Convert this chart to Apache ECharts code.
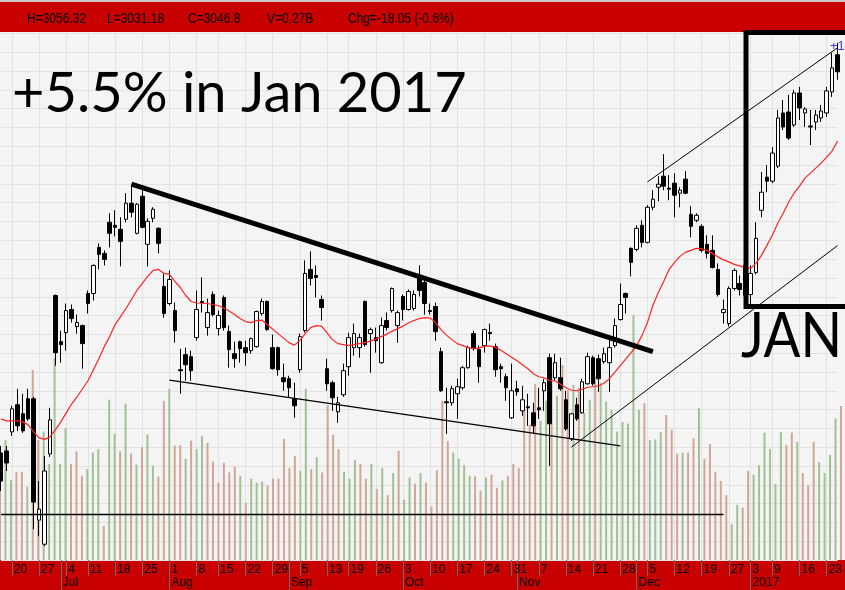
<!DOCTYPE html>
<html><head><meta charset="utf-8">
<script src="https://cdn.jsdelivr.net/npm/echarts@6/dist/echarts.min.js"></script>
<style>html,body{margin:0;padding:0;background:#f4f4f4}#c{width:845px;height:590px}</style>
</head><body><div id="c"></div>
<script>
const dates = ['2016-06-16','2016-06-17','2016-06-20','2016-06-21','2016-06-22','2016-06-23','2016-06-24','2016-06-27','2016-06-28','2016-06-29','2016-06-30',
'2016-07-01','2016-07-04','2016-07-05','2016-07-07','2016-07-08','2016-07-11','2016-07-12','2016-07-13','2016-07-14','2016-07-15','2016-07-18','2016-07-19','2016-07-20','2016-07-21','2016-07-22','2016-07-25','2016-07-26','2016-07-27','2016-07-28','2016-07-29',
'2016-08-01','2016-08-02','2016-08-03','2016-08-04','2016-08-05','2016-08-08','2016-08-10','2016-08-11','2016-08-12','2016-08-15','2016-08-16','2016-08-17','2016-08-18','2016-08-19','2016-08-22','2016-08-23','2016-08-24','2016-08-25','2016-08-26','2016-08-29','2016-08-30','2016-08-31',
'2016-09-01','2016-09-02','2016-09-05','2016-09-06','2016-09-07','2016-09-08','2016-09-09','2016-09-13','2016-09-14','2016-09-15','2016-09-16','2016-09-19','2016-09-20','2016-09-21','2016-09-22','2016-09-23','2016-09-26','2016-09-27','2016-09-28','2016-09-29','2016-09-30',
'2016-10-03','2016-10-04','2016-10-05','2016-10-06','2016-10-07','2016-10-10','2016-10-11','2016-10-12','2016-10-13','2016-10-14','2016-10-17','2016-10-18','2016-10-19','2016-10-20','2016-10-21','2016-10-24','2016-10-25','2016-10-26','2016-10-27','2016-10-28','2016-10-31',
'2016-11-01','2016-11-02','2016-11-03','2016-11-04','2016-11-07','2016-11-08','2016-11-09','2016-11-10','2016-11-11','2016-11-14','2016-11-15','2016-11-16','2016-11-17','2016-11-18','2016-11-21','2016-11-22','2016-11-23','2016-11-24','2016-11-25','2016-11-28','2016-11-29','2016-11-30',
'2016-12-01','2016-12-02','2016-12-05','2016-12-06','2016-12-07','2016-12-08','2016-12-09','2016-12-12','2016-12-13','2016-12-14','2016-12-15','2016-12-16','2016-12-19','2016-12-20','2016-12-21','2016-12-22','2016-12-23','2016-12-27','2016-12-28','2016-12-29','2016-12-30',
'2017-01-03','2017-01-04','2017-01-05','2017-01-06','2017-01-09','2017-01-10','2017-01-11','2017-01-12','2017-01-13','2017-01-16','2017-01-17','2017-01-18','2017-01-19','2017-01-20','2017-01-23','2017-01-24','2017-01-25'];

const open = [2740.4,2742,2757.2,2778.8,2771.6,2783.6,2783.6,2686.8,2667.6,2739.6,
2866,2829.2,2836.4,2854.8,2841.2,2842,2867.6,2867.6,2904.4,2899.6,
2924.4,2922,2918.8,2926.8,2939.6,2915.6,2945.2,2906.8,2927.6,2919.6,
2873.2,2859.6,2854,2806.8,2818.8,2817.2,2832.4,2861.2,2840.4,2866.8,
2839.6,2864.4,2837.2,2819.6,2829.2,2824.4,2822,2825.2,2851.6,2861.2,
2824.4,2824.4,2800.4,2799.6,2783.6,2806.8,2838,2886.8,2882,2862.8,
2807.6,2796.4,2773.2,2786.8,2809.2,2824.4,2824.4,2861.2,2835.6,2832.4,
2812.4,2846,2854,2842,2865.2,2854.8,2855.6,2880.4,2876.4,2854,
2857.2,2821.2,2781.2,2780.4,2787.6,2792.4,2808.4,2835.6,2822.8,2826,
2836.4,2825.2,2809.2,2801.2,2768.4,2791.6,2774,2777.2,2772.4,2776.4,
2790,2816.4,2800.4,2800.4,2782.8,2751.6,2778.8,2772.4,2795.6,2816.4,
2815.6,2813.2,2812.4,2826,2846.8,2867.6,2903.6,2902.8,2922,2908.4,
2936.4,2952.4,2961.2,2951.6,2955.6,2947.6,2958.8,2930.8,2926,2921.2,
2906.8,2902,2886.8,2852.4,2843.6,2871.6,2875.6,2890,2866.8,2884.4,
2934,2960.4,2957.2,2969.2,3011.6,3012.4,3002,3027.6,3011.6,3001.2,
3004.4,3007.6,3011.6,3028.4,3058];

const close = [2718,2732.4,2775.6,2762,2758,2767.6,2701.2,2695.6,2726,2766.8,
2820.4,2826.8,2854,2847.6,2844.4,2827.6,2859.6,2890,2898.8,2894.8,
2915.6,2920.4,2909.2,2939.6,2932.4,2938.8,2920.4,2925.2,2934.8,2907.6,
2851.6,2878.8,2838,2806,2810.8,2806,2854.8,2860.4,2852.4,2850.8,
2850,2840.4,2822.8,2815.6,2823.6,2820.4,2831.6,2853.2,2861.2,2838.8,
2807.6,2806.8,2797.2,2792.4,2778,2833.2,2883.6,2879.6,2880.4,2856.4,
2795.6,2784.4,2780.4,2806,2832.4,2835.6,2832.4,2826.8,2838.8,2830,
2842,2840.4,2871.6,2852.4,2854.8,2869.2,2866.8,2870,2859.6,2853.2,
2837.2,2790,2780.4,2791.6,2793.2,2808.4,2824.4,2823.6,2809.2,2838.8,
2835.6,2806.8,2807.6,2792.4,2790,2789.2,2782.8,2776.4,2762,2774.8,
2796.4,2763.6,2812.4,2791.6,2759.6,2771.6,2767.6,2797.2,2817.2,2795.6,
2799.6,2819.6,2824.4,2842,2858.8,2864.4,2892.4,2919.6,2908.4,2936.4,
2942.8,2954.8,2953.2,2950.8,2946,2950,2947.6,2921.2,2930,2902,
2899.6,2888.4,2866.8,2854.8,2871.6,2886,2870.8,2866,2883.6,2911.6,
2948.4,2957.2,2979.6,3007.6,3000.4,2991.6,3027.6,3015.6,3014.8,3000.4,
3010,3013.2,3029.2,3047.6,3044.4];

const low = [2710,2726,2754,2758,2756.4,2766,2679.6,2674,2666,2737.2,
2810,2812.4,2822,2844.4,2835.6,2807.6,2851.6,2862,2886.8,2890,
2904.4,2913.2,2889.2,2924.4,2928.4,2914.8,2919.6,2889.2,2924.4,2899.6,
2848.4,2858,2828.4,2787.6,2798,2798,2830,2852.4,2834,2849.2,
2834,2838,2808.4,2808.4,2812.4,2810,2819.6,2824.4,2850,2838,
2806.8,2802,2790,2784.4,2768.4,2804.4,2836.4,2874,2864.4,2846,
2790,2774,2764.4,2785.2,2802,2818,2816.4,2825.2,2804.4,2820.4,
2811.6,2838,2852.4,2828.4,2846,2854,2854,2865.2,2850.8,2850.8,
2830,2789.2,2755.6,2778,2767.6,2790.8,2807.6,2822,2796.4,2820.4,
2830,2801.2,2796.4,2782,2767.6,2786,2770,2762,2755.6,2767.6,
2774,2730,2798,2790,2758,2750,2766,2771.6,2794.8,2794,
2789.2,2811.6,2789.2,2824.4,2846,2851.6,2881.2,2901.2,2904.4,2907.6,
2934,2941.2,2950,2942,2928.4,2936.4,2946.8,2912.4,2924.4,2900.4,
2895.6,2887.6,2865.2,2843.6,2841.2,2870,2866,2864.4,2856.4,2882.8,
2928.4,2948.4,2955.6,2967.6,2998,2990,3000.4,3006,3000.4,2986,
2998,3004.4,3008.4,3024.4,3038];

const high = [2746,2746,2778,2791.6,2787.6,2791.6,2785.2,2718,2738,2776.4,
2866.8,2838,2859.6,2858.8,2850.8,2842.8,2870,2890.8,2907.6,2902,
2931.6,2934,2928.4,2947.6,2954,2939.6,2950,2927.6,2936.4,2920.4,
2883.6,2886,2860.4,2823.6,2824.4,2822,2870,2880.4,2863.6,2869.2,
2854,2866,2842,2829.2,2830,2830,2832.4,2854,2863.6,2862,
2834.8,2825.2,2811.6,2802,2796.4,2835.6,2894,2901.2,2890,2866,
2815.6,2798,2785.2,2811.6,2836.4,2843.6,2835.6,2862,2840.4,2840.4,
2848.4,2852.4,2872.4,2854,2866.8,2870.8,2870,2890,2880.4,2859.6,
2860.4,2824.4,2792.4,2794,2799.6,2810,2826,2838,2826,2839.6,
2843.6,2827.6,2811.6,2803.6,2811.6,2798,2794,2787.6,2780.4,2792.4,
2799.6,2819.6,2819.6,2816.4,2790,2772.4,2784.4,2799.6,2820.4,2818,
2818.8,2824.4,2831.6,2847.6,2875.6,2868.4,2904.4,2922,2926,2938,
2950,2961.2,2978.8,2962,2963.6,2952.4,2965.2,2937.2,2931.6,2922.8,
2914,2914,2891.6,2862.8,2873.2,2887.6,2882,2891.6,2890,2924.4,
2964.4,2970,2984.4,3014,3022,3026,3030,3032.4,3016.4,3014,
3014,3018,3032.4,3059.6,3067.6];

// volume, millions of shares
const volume = [200,211,141,155,155,129,334,211,226,169,
355,169,232,169,191,148,160,189,195,60,
282,222,191,275,187,168,199,221,166,147,
280,301,201,202,178,210,195,218,206,173,
136,171,154,164,148,101,143,136,138,131,
143,143,213,162,183,157,301,160,181,154,
272,220,195,155,143,176,169,143,169,125,
162,114,153,192,106,145,134,153,136,94,
158,280,209,189,178,167,148,147,122,145,
150,127,140,148,169,162,268,238,310,245,
280,334,289,343,299,308,303,259,282,323,
312,279,264,226,243,240,431,264,276,211,
212,225,255,229,187,189,189,214,267,178,
204,155,139,114,63,97,92,157,150,167,
224,195,134,225,202,224,208,153,132,208,
172,153,185,249,271];

// moving average (red line)
const ma = [2767.6,2766,2766,2766,2765.2,2762.8,2757.2,2752.4,2751.2,2753.2,
2758.8,2765.2,2772.4,2779.6,2785.2,2791.6,2798,2806.8,2815.6,2825.2,
2833.2,2842.8,2849.2,2855.6,2862.8,2870,2875.6,2881.2,2886,2886.8,
2883.6,2882.8,2877.2,2872.4,2866,2861.2,2860,2859.8,2859.6,2858.8,
2858,2856,2853.6,2850.8,2847.6,2845.2,2844.4,2846,2846.4,2842.8,
2839.2,2835.6,2832,2828.4,2826.4,2830,2835.6,2840.4,2842,2841.6,
2836.4,2830.8,2827.6,2826.8,2826,2826.8,2827.6,2828.4,2829.6,2831.2,
2833.2,2835.2,2837.6,2839.6,2841.6,2844,2846,2847.6,2848.4,2848,
2844.4,2838.8,2834.4,2830.8,2827.6,2826,2824.4,2823.6,2824,2825.6,
2825.6,2824.8,2822.4,2819.6,2816.8,2814,2810.8,2807.6,2803.6,2801.2,
2800.4,2798,2798,2795.2,2792.4,2790.4,2790,2791.2,2792.8,2793.2,
2794,2796,2799.6,2804.8,2810,2815.2,2820.4,2826,2834,2844.4,
2858,2868.4,2877.2,2886.8,2892.4,2897.2,2900.4,2902,2903.6,2903.2,
2902,2899.6,2896.8,2894.4,2892.8,2890.8,2889.6,2888,2887.6,2891.6,
2898,2906,2914,2923.6,2931.6,2940.4,2947.6,2953.2,2959.6,2963.6,
2967.6,2971.6,2976.4,2981.2,2989.2];

const monthNames = ['Jan','Feb','Mar','Apr','May','Jun','Jul','Aug','Sep','Oct','Nov','Dec'];
const headerTexts = ['H=3056.32','L=3031.18','C=3046.8','V=0.27B','Chg=-18.05 (-0.6%)'];
const titleText = '+5.5% in Jan 2017';
const boxText = 'JAN';

const dObj = dates.map(s => new Date(s + 'T00:00:00Z'));
const weekStart = dObj.map((d, i) => i > 0 && d.getUTCDay() < dObj[i - 1].getUTCDay());
const monthStart = dObj.map((d, i) => i > 0 && d.getUTCMonth() !== dObj[i - 1].getUTCMonth());

const upVol = '#a2c095', downVol = '#d0a696';
const candleData = dates.map((d, i) => [open[i], close[i], low[i], high[i]]);
const volData = volume.map((v, i) => ({
  value: v,
  itemStyle: { color: (i > 0 ? close[i] >= close[i - 1] : close[i] >= open[i]) ? upVol : downVol }
}));

const sans = '"Liberation Sans", Arial, sans-serif';
const hdrX = [27, 107, 188, 267, 348];

const chart = echarts.init(document.getElementById('c'), null, { renderer: 'canvas' });
chart.setOption({
  animation: false,
  backgroundColor: '#f4f4f4',
  grid: [
    { left: 1.07, right: 2.04, top: 33.5, bottom: 30 },
    { left: -0.93, right: 4.04, top: 33.5, bottom: 30 }
  ],
  xAxis: [
    {
      type: 'category', gridIndex: 0, data: dates, boundaryGap: false, position: 'bottom',
      axisLine: { show: false },
      axisTick: { show: true, interval: (i) => weekStart[i], length: 16, lineStyle: { color: '#6b6b6b' } },
      axisLabel: { interval: (i) => weekStart[i], formatter: (v) => String(parseInt(v.slice(8), 10)),
        align: 'left', padding: [0, 0, 0, 2], margin: 4, color: '#000', fontFamily: sans, fontSize: 12 },
      splitLine: { show: true, interval: (i) => weekStart[i], lineStyle: { color: '#e2e2e2', width: 1 } }
    },
    {
      type: 'category', gridIndex: 0, data: dates, boundaryGap: false, position: 'bottom',
      axisLine: { show: false },
      axisTick: { show: true, interval: (i) => monthStart[i], length: 30, lineStyle: { color: '#6b6b6b' } },
      axisLabel: { interval: (i) => monthStart[i],
        formatter: (v) => { const m = parseInt(v.slice(5, 7), 10) - 1; return m === 0 ? v.slice(0, 4) : monthNames[m]; },
        align: 'left', padding: [0, 0, 0, 2], margin: 17, color: '#000', fontFamily: sans, fontSize: 12 },
      splitLine: { show: false }
    },
    { type: 'category', gridIndex: 1, data: dates, boundaryGap: false, show: false }
  ],
  yAxis: [
    { type: 'value', gridIndex: 0, min: 2655, max: 3075, interval: 15, scale: true,
      axisLabel: { show: false }, axisLine: { show: false }, axisTick: { show: false },
      splitLine: { show: true, lineStyle: { color: '#e2e2e2', width: 1 } } },
    { type: 'value', gridIndex: 1, min: 0, max: 926, show: false, splitLine: { show: false } }
  ],
  series: [
    { type: 'bar', name: 'Volume', xAxisIndex: 2, yAxisIndex: 1, data: volData, barWidth: 2, z: 1, silent: true },
    {
      type: 'candlestick', name: 'STI', xAxisIndex: 0, yAxisIndex: 0, data: candleData, barWidth: 4, clip: false, z: 3,
      itemStyle: { color: '#ffffff', color0: '#000000', borderColor: '#000000', borderColor0: '#000000', borderWidth: 1 },
      markLine: {
        symbol: ['none', 'none'], silent: true, animation: false, label: { show: false },
        lineStyle: { color: '#000', type: 'solid', width: 1.3 },
        data: [
          [{ coord: [24, 2954.8], lineStyle: { width: 5, color: '#000', type: 'solid' } }, { coord: [120, 2821.2] }],
          [{ coord: [31, 2798.5] }, { coord: [114, 2746.1] }],
          [{ coord: [119, 2956.6], lineStyle: { width: 1, color: '#000', type: 'solid' } }, { coord: [154, 3063.6] }],
          [{ coord: [105, 2745], lineStyle: { width: 1, color: '#000', type: 'solid' } }, { coord: [154, 2905.8] }],
          [{ coord: [0, 2691.6] }, { coord: [133, 2691.6] }]
        ]
      }
    },
    { type: 'line', name: 'MA', xAxisIndex: 0, yAxisIndex: 0, data: ma, showSymbol: false, symbol: 'none', z: 4,
      lineStyle: { color: '#ff2424', width: 1.2 }, silent: true }
  ],
  graphic: [
    { type: 'rect', z: -10, shape: { x: 0, y: 0, width: 845, height: 32 }, style: { fill: '#c80000' } },
    { type: 'rect', z: -10, shape: { x: 0, y: 0, width: 845, height: 2 }, style: { fill: '#c8c8c8' } },
    { type: 'rect', z: -10, shape: { x: 0, y: 560, width: 845, height: 30 }, style: { fill: '#c80000' } },
    ...headerTexts.map((t, k) => ({ type: 'text', z: 10, x: hdrX[k], y: 19, scaleX: 0.8,
      style: { text: t, x: 0, y: 0, font: '15px ' + sans, fill: '#000', verticalAlign: 'middle' } })),
    { type: 'text', z: 10, style: { text: titleText, x: 12, y: 94, font: '56px Lato', fill: '#000', verticalAlign: 'middle' } },
    { type: 'rect', z: 20, shape: { x: 746, y: 32.5, width: 130, height: 274 }, style: { fill: 'none', stroke: '#000', lineWidth: 5 } },
    { type: 'text', z: 20, x: 741, y: 337, scaleX: 0.88, style: { text: boxText, x: 0, y: 0, font: '62px Lato', fill: '#000', verticalAlign: 'middle' } },
    { type: 'text', z: 20, style: { text: '+1', x: 830, y: 46, font: '13px sans-serif', fill: '#3a3aff', verticalAlign: 'middle' } }
  ]
});
</script></body></html>
